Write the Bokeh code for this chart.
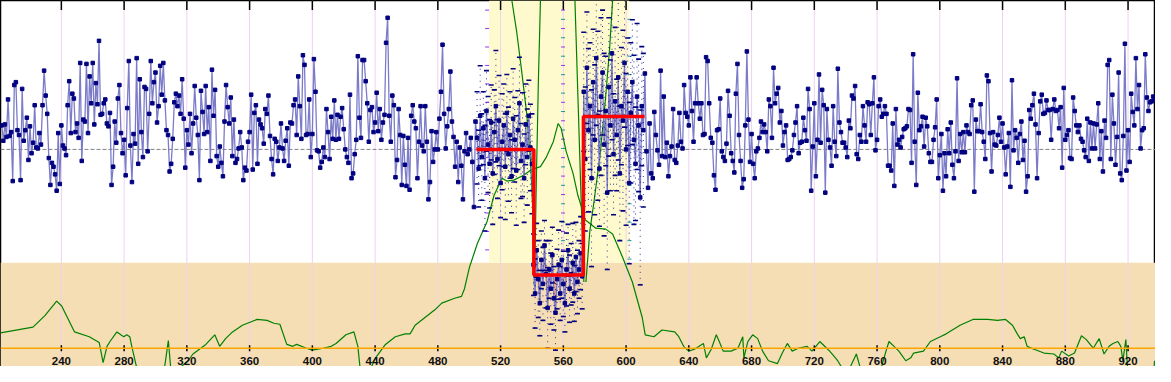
import numpy as np
from bokeh.plotting import figure
from bokeh.models import Range1d, BoxAnnotation, Span
from bokeh.core.properties import value
from bokeh.embed import file_html
from bokeh.resources import INLINE

# ---------------- data ----------------
ticks = [240, 280, 320, 360, 400, 440, 480, 520, 560, 600, 640, 680, 720, 760, 800, 840, 880, 920]
tick_labels = [str(t) for t in ticks]

left_start = 202
left_vals = [
    25, 9, 26, 13, 52, 14, 18, -33, 67, 70, 20, 15, -32, 63, 9, 20, 33, -11, 24, -4,
    7, 46, 2, 1, 17, 5, 46, 82, 56, 37, -9, -37, -14, -18, -26, -43, 17, -36, 25, 4,
    1, -6, 46, 71, 17, 58, 53, 18, 27, 12, 90, -12, 31, 29, 89, 17, 76, 48, 90, 26,
    69, 47, 113, 36, 37, 48, 52, 27, 24, 38, -37, -18, 29, 7, 53, 67, 17, -4, 10, -27,
    43, 92, 4, -34, 16, 6, 95, -15, 73, 18, -8, 65, 63, -2, 37, 92, 48, 70, 80, 28,
    45, 87, 57, 90, 51, 20, 15, -23, -15, 11, 49, 58, 45, 56, 37, 73, 32, -19, 20, 5,
    37, -4, 27, 66, 33, 15, -32, 61, 39, 16, 66, 18, 44, -12, 83, 35, 62, -7, -18, 3,
    -14, -28, 29, 67, 44, 27, 54, -7, 31, -14, -10, 1, 18, 2, -32, -19, -22, 8, 18, 57,
    -21, 38, 46, -15, 31, 26, 22, 6, 42, 37, 56, 14, -10, -26, 11, 8, -12, 2, 27, 1,
    -12, 9, 22, -17, 28, 27, 46, 52, 15, 76,
    45, 11, 98, 88, 15, 16, 52, -8, 16, 94, 60, -1, -2, -19, -13, 2, -8, 42,
    18, -10, 34, 11, 51, 10, 36, 11, 34, 43, 21, 0, -8, -14, 57, -30, -25, -5, 10,
    97, 33, 12, 93, 93, 71, 48, 8, 41, 44, 18, 28, 59, 19, 42, 10, 28, 36, 111,
    137, 35, 8, 56, 46, -29, -11, 42, 15, -37, 14, -16, -38, 12, -42, 35, 46, 29, 22, -30,
    8, 45, 4, -2, 45, 8, -52, -34, 19, -13, 0, 18, 0, 32, 60, 109, 37, 1, 24, 42,
    81, 29, 13, -18, 8, -34, 2, -17, -52, -2, 17, -5, 0, 12, -13, -60, 29,
]

mid_start = 505
mid_left_vals = [12, -20, 35, -8, 22, -30, 40, 5, -15, 28, -25, 18, 45, -10, 30, -35, 8, 25,
                 -18, 38, -5, 15, -28, 32, 10, -22, 20, 48, -12, 5, -30, 26, -8, 35, 2, -15]
mid_left_err = [48, 40, 52, 45, 38, 55, 42, 50, 46, 39, 53, 44, 58, 41, 47, 36, 50, 43,
                55, 40, 49, 45, 38, 52, 44, 57, 41, 48, 39, 54, 46, 42, 50, 37, 45, 52]
trough_vals = [-120, -150, -105, -135, -160, -115, -140, -100, -130, -165, -125, -145, -110, -155,
               -170, -135, -120, -150, -115, -140, -160, -125, -105, -145, -130, -118, -150, -112,
               -138, -125, -108, -132]
trough_err = [32, 36, 28, 40, 34, 30, 38, 26, 35, 42, 30, 37, 29, 33, 39, 31, 36, 28, 40, 34,
              30, 38, 27, 35, 32, 41, 29, 36, 33, 30, 38, 34]
mid_right_vals = [60, -10, 85, 20, 45, -30, 70, 10, 95, 35, -20, 55, 80, 5, 40, -45, 65, 25, 100,
                  -5, 50, 15, 75, -25, 45, 30, 90, 0, 60, -35, 38, 70, 10, -15, 55, 25, -50, 45, 20]
mid_right_err = [62, 75, 58, 85, 66, 92, 55, 78, 70, 88, 60, 82, 65, 95, 57, 80, 72, 68, 90, 63,
                 77, 58, 86, 70, 61, 94, 67, 79, 56, 84, 73, 65, 88, 59, 76, 69, 91, 62, 80]

right_start = 612
right_vals = [
    79, -2, -40, 27, -25, -30, 39, 15, -1, -16, 82, -7, 55, -8, 7, -28, -7, 3, 42, -11,
    -14, 4, 38, 8, 1, 67, 38, 34, 25, 75, 40, 8, 48, 75, 48, 32, 48, 15, 16,
    96, 92, 48, 12, 7, -27, -42, 20, 21, 53, -2, -8, -12, 6, 61, 35, -4, -12, -24, 58,
    89, 15, -12, -40, -31, 25, 102, 31, -13, 16, -15, -30, -2, 1, 12, 29, 18, 26, 18,
    -2, 52, 45, 12, 85, 48, 58, 64, 28, 40, 4, 18, 25, -11, -10, -8, -1, 15, 28, 45,
    -4, 7, 8, 33, 20, 9, 63, 42, -43, 3, 48, -28, 10, 78, 7, 62, 46, -45, 42,
    10, 2, -17, 45, 8, -7, 84, 28, 18, 7, 7, 2, -8, 30, 22, 56, 53, 66, -5, -10,
    15, 8, 45, 25, 8, 49, 47, 15, 48, 75, -1, 10, 45, 52, 34, 37, 45, 37, -17,
    -17, -22, 27, -38, 42, 5, 10, 2, 13, 21, 22, 24, 42, 41, -14, 99, 8, -37, 59, 20,
    24, 34, 3, 33, 24, -4, -13, -13, 10, 23, 52, -30, -6, 16, -43, -4, -28, 21, -4, 28,
    -16, -30, -2, 74, -12, 16, -3, 18, -3, 25, 18, 16, 46, 51, -44, 31, 19, 19, 47, 18,
    8, -10, 77, 71, 17, -23, 18, 5, 4, 15, 33, 8, 27, 2, -26, 3, 17, -39, 72, -1,
    20, 12, -14, 16, 29, -11, 9, -44, -28, 41, 32, 46, 58, 26, -30, 17, 50, 57, 37, 38,
    51, 41, 41, 10, 42, 52, 40, 41, 22, 44, -19, 64, 10, 15, 20, -9, -10, 54, 40, 25,
    18, 25, 11, 8, -1, -8, 32, -12, 28, 1, 27, 1, 26, 48, -10, 19, -23, 30, 12, 88,
    93, -10, 57, 27, -16, 13, 80, -25, -32, 14, 110, -22, 20, -13, 58, 39, 25, 95, 42, 67,
    1, 20, 22, 99, 54, 40, 49, 50, 55, 52,
]

# fitted step (segment edges and levels)
step_edges = [504.6, 541.2, 572.8, 611.8]
step_levels = [0, -130.7, 34.3]

# profile curve (bottom) and confidence curves
green_u = [201.2, 221.9, 229.5, 237.0, 240.2, 248.4, 257.8, 264.1, 266.6, 269.1,
           271.0, 275.4, 277.9, 279.8, 281.7, 283.6, 284.9, 287.4, 289.3, 305.1,
           308.2, 310.1, 320.8, 323.9, 332.1, 337.8, 340.9, 344.7, 349.1, 355.4,
           364.8, 371.1, 375.5, 379.3, 383.7, 387.5, 390.0, 396.2, 400.0, 406.9,
           412.0, 415.1, 421.4, 426.5, 429.0, 430.9, 435.3, 440.3, 446.6, 452.9,
           459.2, 462.3, 465.5, 471.8, 478.1, 482.5, 490.7, 495.1, 497.0, 500.1,
           505.2, 511.4, 515.8, 520.9, 524.0, 528.4, 534.7, 539.7, 545.4, 549.2,
           553.6, 556.7, 558.6, 561.8, 566.2, 569.3, 571.2, 573.7, 580.7, 587.0,
           591.4, 597.7, 604.0, 610.3, 612.2, 617.8, 622.9, 631.0, 633.6, 636.7,
           639.9, 643.6, 649.3, 651.2, 654.3, 657.5, 659.4, 661.9, 666.9, 671.3,
           674.4, 675.1, 677.6, 680.7, 683.9, 687.0, 690.8, 696.5, 699.6, 702.8,
           705.9, 709.7, 715.4, 718.5, 723.5, 727.9, 729.8, 734.9, 740.5, 746.8,
           750.6, 761.3, 765.7, 767.6, 770.8, 773.9, 778.3, 781.5, 783.3, 789.6,
           794.0, 800.3, 804.1, 812.9, 821.1, 830.5, 836.8, 841.9, 846.3, 849.4,
           851.3, 853.8, 855.7, 860.1, 866.4, 872.7, 875.8, 877.7, 882.1, 885.9,
           890.3, 893.4, 897.8, 901.6, 904.7, 907.9, 910.4, 913.5, 915.4, 916.7,
           918.6, 919.9, 936.2, 936.9]
green_v = [-191, -185, -173, -158, -163, -190, -195, -201, -222, -205,
           -200, -190, -193, -195, -193, -195, -205, -223, -235, -235,
           -199, -235, -220, -213, -203, -193, -205, -197, -190, -183,
           -177, -178, -181, -182, -203, -205, -203, -207, -209, -207,
           -205, -202, -193, -190, -205, -235, -235, -217, -203, -195,
           -192, -192, -183, -175, -167, -160, -155, -153, -145, -123,
           -98, -75, -48, -30, -33, -32, -27, -21, -18, -8,
           8, 27, 22, -2, -25, -48, -58, -73, -82, -83,
           -88, -112, -138, -175, -193, -195, -188, -190, -195, -205,
           -210, -208, -202, -217, -208, -193, -200, -210, -210, -207,
           -195, -217, -200, -193, -197, -210, -220, -223, -212, -202,
           -210, -207, -205, -210, -200, -207, -210, -220, -235, -213,
           -235, -235, -210, -200, -205, -210, -220, -217, -212, -210,
           -200, -195, -192, -183, -177, -177, -178, -177, -183, -192,
           -197, -195, -205, -208, -212, -213, -217, -210, -215, -212,
           -194, -198, -207, -197, -213, -205, -202, -200, -205, -220,
           -198, -235, -235, -220]

gA_u = [523.0, 527.2, 530.3, 533.4, 536.6, 539.1, 541.0, 541.6]
gA_v = [200, 155, 122, 82, 38, -12, -78, -142]
gB_u = [545.8, 545.4, 544.8, 544.1, 543.5, 542.9, 542.3, 541.6]
gB_v = [200, 155, 115, 72, 22, -22, -78, -142]
gC_u = [566.5, 567.4, 569.3, 571.2, 573.1]
gC_v = [200, 155, 55, -45, -138]
gD_u = [593.5, 591.4, 589.5, 587.0, 583.5, 579.5, 576.9, 574.4]
gD_v = [200, 155, 105, 55, -5, -55, -85, -138]

# region limits
x_min, x_max = 201.2, 937.5
y_min, y_max = -226, 155
tan_top = -118
band_left, band_right = 512.7, 602.0
axis_level = -207
label_bottom = -224
purple_cols = [511.4, 559.8]
teal_cols = [559.8, 602.2]

# ---------------- figure ----------------
p = figure(width=1155, height=366, x_range=Range1d(x_min, x_max), y_range=Range1d(y_min, y_max),
           output_backend="svg", toolbar_location=None, x_axis_location=None,
           y_axis_location=None, min_border=0)
p.xgrid.visible = False
p.ygrid.visible = False
p.outline_line_color = "black"
p.outline_line_width = 1.5
p.background_fill_color = "white"
p.border_fill_color = "white"

p.add_layout(BoxAnnotation(top=tan_top, fill_color="#F5DEB3", fill_alpha=1.0,
                           line_color=None, level="underlay"))
p.add_layout(BoxAnnotation(left=band_left, right=band_right, bottom=tan_top,
                           fill_color="#FFFACD", fill_alpha=1.0, line_color=None,
                           level="underlay"))

# vertical grid lines
p.segment(x0=ticks, y0=[y_min] * len(ticks), x1=ticks, y1=[y_max] * len(ticks),
          line_color="#EDD3EE", line_width=1)
# top ticks
p.segment(x0=ticks, y0=[y_max] * len(ticks), x1=ticks, y1=[y_max - 10] * len(ticks),
          line_color="black", line_width=1.5)

# small guide dashes
lv = np.arange(y_max - 10, tan_top, -19.2)
for cx in purple_cols:
    p.scatter(x=[cx] * len(lv), y=lv, marker="dash", size=4, line_color="#9933EE", line_width=1)
lv2 = lv - 9.6
for cx in teal_cols:
    p.scatter(x=[cx] * len(lv2), y=lv2, marker="dash", size=4, line_color="#119999", line_width=1)

# baseline (dashed)
base_x = [x_min, step_edges[1], step_edges[1], step_edges[2], step_edges[2], x_max]
base_y = [0, 0, step_levels[1], step_levels[1], 0, 0]
p.line(base_x, base_y, line_color="#808080", line_width=1, line_dash="4 2")

# green curves
p.line(green_u, green_v, line_color="#008000", line_width=1.2)
for gu, gv in ((gA_u, gA_v), (gB_u, gB_v), (gC_u, gC_v), (gD_u, gD_v)):
    p.line(gu, gv, line_color="#008000", line_width=1.2)

# residual bars in trough
tr_x = np.arange(mid_start + len(mid_left_vals), mid_start + len(mid_left_vals) + len(trough_vals))
tr_v = np.array(trough_vals, dtype=float)
p.quad(left=tr_x - 0.5, right=tr_x + 0.5, bottom=np.minimum(tr_v, step_levels[1]),
       top=np.maximum(tr_v, step_levels[1]), fill_color="#E9967A", fill_alpha=0.7, line_color=None)

# full series
mid_vals = mid_left_vals + trough_vals + mid_right_vals
mid_err = mid_left_err + trough_err + mid_right_err
x_left = np.arange(left_start, left_start + len(left_vals))
x_mid = np.arange(mid_start, mid_start + len(mid_vals))
x_right = np.arange(right_start, right_start + len(right_vals))
x_all = np.concatenate([x_left, x_mid, x_right])
y_all = np.array(left_vals + mid_vals + right_vals, dtype=float)

p.line(x_all, y_all, line_color="#7B7BC9", line_width=1.3)

mv = np.array(mid_vals, dtype=float)
me = np.array(mid_err, dtype=float)
p.segment(x0=x_mid, y0=mv - me, x1=x_mid, y1=mv + me, line_color="#000080",
          line_width=1, line_dash="1 5", line_alpha=0.8)
p.scatter(x=x_mid, y=mv + me, marker="dash", size=5, line_color="#000080", line_width=1.6)
p.scatter(x=x_mid, y=mv - me, marker="dash", size=5, line_color="#000080", line_width=1.6)

p.scatter(x=x_all, y=y_all, marker="square", size=3.5, fill_color="#000080", line_color="#000080")

# fitted step
sx, sy = [], []
for i, lvl in enumerate(step_levels):
    sx += [step_edges[i], step_edges[i + 1]]
    sy += [lvl, lvl]
p.line(sx, sy, line_color="#FF0000", line_width=3.5)

# bottom axis (inside the frame)
p.add_layout(Span(location=axis_level, dimension="width", line_color="#FFA500", line_width=1.5))
p.segment(x0=ticks, y0=[axis_level - 3] * len(ticks), x1=ticks, y1=[axis_level + 3] * len(ticks),
          line_color="black", line_width=1.5)
p.text(x=ticks, y=[label_bottom] * len(ticks), text=tick_labels, text_align="center",
       text_baseline="bottom", text_font_size="11.5px", text_color="#111111",
       text_font=value("Liberation Sans"), text_font_style="bold")

open("out.html", "w").write(file_html(p, INLINE))
